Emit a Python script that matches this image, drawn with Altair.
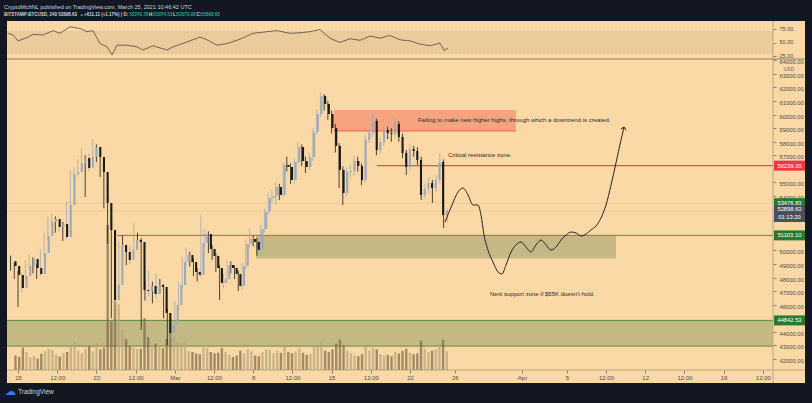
import altair as alt
import numpy as np
import pandas as pd

# ---------------- data ----------------
CANDLE_START = "2021-02-14 08:00"
CANDLE_STEP = "8h"
FIRST_OPEN = 49200
CLOSE = [48850, 48190, 47230, 48110, 48850, 49360, 48700, 48260, 49810, 51060,
         52090, 52310, 51720, 51940, 50980, 53340, 55620, 55770, 56430, 56800,
         56070, 56880, 57610, 56880, 55770, 53490, 51500, 46340, 47450, 50400,
         49880, 49290, 50030, 50760, 50620, 47080, 47010, 47380, 46790, 47450,
         47300, 45390, 43910, 44500, 45980, 47450, 49140, 49660, 49140, 48410,
         48200, 50540, 51210, 50100, 49590, 48700, 47600, 47890, 48920, 48700,
         48260, 47380, 48850, 50470, 50840, 50620, 50030, 51570, 52830, 53860,
         54000, 54670, 54080, 56290, 56140, 55180, 56510, 57610, 56580, 56140,
         56880, 58720, 60040, 61370, 60780, 60040, 59010, 57690, 55920, 54220,
         55770, 55840, 56580, 56210, 55180, 58130, 58640, 59530, 57390, 57980,
         58860, 58640, 58570, 59310, 58350, 57170, 56140, 57460, 57320, 56650,
         54080, 54520, 54960, 54590, 55180, 56510, 52600, 52898.63]
HIGH = [49600, 49100, 48500, 48400, 49300, 49700, 49500, 49000, 50100, 51300,
        52500, 52700, 52500, 52200, 52100, 53600, 55900, 56100, 56700, 57540,
        57000, 57100, 58200, 57800, 57000, 56000, 54000, 51800, 48200, 50700,
        51100, 50200, 50400, 52010, 51300, 50900, 47800, 48500, 47700, 48300,
        47900, 47500, 45700, 45000, 46300, 47700, 49500, 50200, 49900, 49400,
        48700, 52600, 51600, 51400, 50400, 49800, 48900, 48300, 49300, 49200,
        48900, 48500, 49100, 50800, 51650, 51100, 50900, 51900, 53100, 54300,
        54500, 55000, 54900, 56500, 56900, 56400, 56800, 58000, 57800, 56900,
        57200, 59000, 60400, 61660, 61500, 61000, 60300, 59300, 57900, 56200,
        56100, 56300, 57000, 56900, 56400, 58500, 59000, 60110, 59700, 58300,
        59200, 59100, 59000, 59800, 59500, 58600, 57400, 57800, 57700, 57600,
        56900, 54900, 55400, 55200, 55500, 57170, 56700, 53074.53]
LOW = [48500, 47900, 45830, 46900, 47900, 48600, 48300, 47900, 48100, 49600,
       50800, 51800, 51300, 51400, 50700, 50800, 53100, 55200, 55500, 56100,
       53930, 55800, 56600, 56500, 55400, 53100, 50500, 45000, 45900, 47200,
       49400, 48900, 49000, 49800, 50200, 44140, 46300, 46600, 46100, 46500,
       46800, 45000, 43030, 43500, 44200, 45700, 47200, 48900, 48800, 48100,
       47700, 48000, 50200, 49800, 49300, 48400, 46340, 47200, 47600, 48300,
       47900, 47000, 47100, 48600, 50200, 50300, 49600, 49800, 51300, 52600,
       53500, 53340, 53700, 53900, 55800, 54900, 54900, 56300, 56200, 55700,
       55900, 56600, 58500, 59800, 60300, 59600, 58600, 57200, 54590, 53340,
       54000, 55300, 55500, 55800, 54800, 55000, 57900, 58300, 57000, 57100,
       57700, 58200, 58000, 58300, 58000, 56800, 55550, 55900, 56900, 56300,
       53700, 53800, 54200, 53490, 54300, 54900, 51650, 52070.08]
VOLUME = [420, 380, 650, 520, 360, 410, 330, 470, 540, 610,
          580, 450, 390, 480, 520, 700, 820, 560, 480, 620,
          690, 540, 780, 600, 650, 4200, 1400, 2000, 1900, 1200,
          900, 700, 650, 600, 620, 1500, 950, 700, 760, 680,
          640, 900, 1100, 980, 800, 760, 820, 560, 520, 480,
          460, 720, 640, 520, 480, 500, 640, 520, 450, 380,
          420, 560, 480, 600, 540, 420, 400, 520, 600, 580,
          480, 560, 500, 700, 520, 480, 540, 620, 500, 440,
          460, 680, 720, 820, 560, 520, 600, 760, 880, 720,
          560, 480, 420, 400, 460, 700, 560, 640, 600, 460,
          420, 440, 400, 520, 480, 560, 620, 500, 460, 480,
          860, 620, 520, 560, 600, 760, 880, 540]

# RSI (days since 15 Feb 2021)
RSI_DAY = [-0.9, -0.45, 0.0, 0.8, 1.34, 2.23, 3.13, 3.75, 4.64, 5.54,
           6.16, 6.7, 7.32, 7.95, 8.39, 8.84, 9.73, 10.63, 11.16, 12.05,
           13.3, 13.84, 15.09, 16.25, 16.88, 17.77, 18.66, 19.82, 20.98, 22.23,
           23.13, 24.29, 25.18, 26.07, 26.96, 27.86, 28.75, 29.64, 30.54, 31.43,
           32.32, 33.21, 34.11, 35.0, 35.89, 36.79, 37.68, 38.04, 38.4]
RSI_VAL = [67, 64, 53, 59, 65, 64, 72, 67, 79, 76,
           70, 72, 48, 42, 27, 45, 45, 42, 36, 44,
           36, 42, 51, 60, 55, 45, 48, 56, 67, 70,
           72, 67, 68, 70, 74, 58, 50, 57, 54, 62,
           58, 63, 55, 53, 47, 44, 49, 35, 40]

# hand-drawn projection path
PROJ_DAY = [38.13, 38.75, 39.29, 39.73, 40.18, 40.63, 41.07, 41.34, 41.61, 41.96,
            42.41, 42.86, 43.21, 43.57, 44.02, 44.46, 44.91, 45.36, 45.80, 46.25,
            46.70, 47.14, 47.59, 48.04, 48.48, 48.93, 49.38, 49.82, 50.27, 50.71,
            51.16, 51.61, 52.05, 52.50, 52.95, 53.39, 53.84, 54.11]
PROJ_PRICE = [52090, 53340, 54300, 54590, 54080, 53340, 53340, 52600, 51130, 50030,
              49140, 48410, 48260, 48920, 49880, 50400, 50620, 50250, 49880, 50400,
              50760, 50400, 50030, 50250, 50760, 51130, 51350, 51280, 51060, 51200,
              51500, 51790, 52380, 53340, 54810, 56430, 58130, 59080]

# zones
ZONE_X0 = [-1.0, 21.25, 28.21]
ZONE_X1 = [67.4, 53.39, 44.46]
ZONE_LO = [42950, 49400, 58790]
ZONE_HI = [44842.53, 51103.10, 60340]
ZONE_FILL = ["#c4b985", "#c4b985", "#f5a47f"]

# horizontal levels
LEVEL_X0 = [32.05, 8.84, -1.0, -1.0, 28.21, -1.0, -1.0]
LEVEL_X1 = [67.4, 67.4, 67.4, 67.4, 44.46, 67.4, 67.4]
LEVEL_PRICE = [56239.00, 51103.10, 44842.53, 42950, 58790, 53476.83, 52898.63]
LEVEL_COLOR = ["#f04a4a", "#5e8f3a", "#5e8f3a", "#5e8f3a", "#f0604f", "#e9c48f", "#e9c48f"]
LEVEL_WIDTH = [1.2, 1.0, 1.0, 1.0, 1.0, 0.7, 0.7]

PRICE_TICKS = [42000, 43000, 44000, 46000, 47000, 48000, 49000, 50000, 54000,
               55000, 57000, 58000, 59000, 60000, 61000, 62000, 63000, 64000]
RSI_TICKS = [25, 50, 75]
TICK_DAYS = [0, 3.5, 7, 10.5, 14, 17.5, 21, 24.5, 28, 31.5, 35, 39, 45, 49, 52.5, 56, 59.5, 63, 66.5]
TICK_LABELS = ["15", "12:00", "22", "12:00", "Mar", "12:00", "8", "12:00", "15", "12:00",
               "22", "26", "Apr", "5", "12:00", "12", "12:00", "19", "12:00"]

BOX_PRICE = [56239.00, 53476.83, 51103.10, 44842.53]
BOX_TEXT = ["56239.00", "53476.83", "51103.10", "44842.53"]
BOX_COLOR = ["#f23645", "#1e7b34", "#2a7a2e", "#2a7a2e"]
LAST_PRICE = 52898.63
LAST_TEXT = "52898.63"
COUNTDOWN = "01:13:20"

NOTE_TEXT = ["Failing to make new higher highs, through which a downtrend is created.",
             "Critical resistance zone.",
             "Next support zone if $55K doesn't hold."]
NOTE_DAY = [35.71, 38.39, 42.14]
NOTE_PRICE = [59600, 57020, 46790]

HEADER1 = "CryptoMichNL published on TradingView.com, March 25, 2021 10:46:42 UTC"
HEADER2_TEXT = ["BITSTAMP:BTCUSD, 240  52898.63", "\u25b2", "+611.11 (+1.17%) | O:", "52245.78",
                "H:", "53074.53", "L:", "52070.08", "C:", "52898.63"]
HEADER2_GREEN = [False, True, False, True, False, True, False, True, False, True]

# ---------------- styling ----------------
BG = "#fad9a6"
FRAME = "#131722"
UP = "#9ea9b9"
DOWN = "#1a1a1a"
LIGHT = "#d1d4dc"
GREEN = "#26a69a"
FONT = "Liberation Sans"
W, H = 812, 403

X_SC = alt.Scale(domain=[-1, 70], range=[6.8, 802.0], zero=False, nice=False)
P_SC = alt.Scale(domain=[42000, 64000], range=[359.0, 60.25], zero=False, nice=False)
R_SC = alt.Scale(domain=[20, 80], range=[58.7, 26.3], zero=False, nice=False)
V_SC = alt.Scale(domain=[0, 9000], range=[370.0, 59.0], zero=False, nice=False)

# ---------------- tables ----------------
times = pd.date_range(CANDLE_START, periods=len(CLOSE), freq=CANDLE_STEP)
days = ((times - pd.Timestamp("2021-02-15")) / pd.Timedelta(days=1)).to_numpy()
opens = [FIRST_OPEN] + CLOSE[:-1]
candles = pd.DataFrame({"day": days, "open": opens, "close": CLOSE,
                        "high": HIGH, "low": LOW, "vol": VOLUME})
candles["dir"] = np.where(candles["close"] >= candles["open"], "up", "down")

rsi = pd.DataFrame({"day": RSI_DAY, "rsi": RSI_VAL})
proj = pd.DataFrame({"day": PROJ_DAY, "price": PROJ_PRICE})
zones = pd.DataFrame({"x0": ZONE_X0, "x1": ZONE_X1, "lo": ZONE_LO, "hi": ZONE_HI, "fill": ZONE_FILL})
levels = pd.DataFrame({"x0": LEVEL_X0, "x1": LEVEL_X1, "p": LEVEL_PRICE,
                       "c": LEVEL_COLOR, "w": LEVEL_WIDTH})
boxes = pd.DataFrame({"p": BOX_PRICE, "t": BOX_TEXT, "c": BOX_COLOR})
notes = pd.DataFrame({"day": NOTE_DAY, "price": NOTE_PRICE, "t": NOTE_TEXT})
one = pd.DataFrame({"k": [0]})

# header segment x-positions (layout)
seg_x = [4, 79.5, 84, 129.5, 149, 153.5, 173, 177, 196.5, 201]
header2 = pd.DataFrame({"t": HEADER2_TEXT, "x": seg_x,
                        "c": [GREEN if g else LIGHT for g in HEADER2_GREEN]})

dir_color = alt.Color("dir:N", scale=alt.Scale(domain=["up", "down"], range=[UP, DOWN]), legend=None)

days_js = "[" + ",".join(str(d) for d in TICK_DAYS) + "]"
labels_js = "[" + ",".join("'" + s + "'" for s in TICK_LABELS) + "]"
x_axis = alt.Axis(orient="bottom", offset=-33, values=TICK_DAYS,
                  labelExpr=f"{labels_js}[indexof({days_js}, datum.value)]",
                  domain=False, grid=False, tickSize=3, tickColor="#8a7d68",
                  labelFontSize=6, labelColor="#4a4a4a", labelPadding=1,
                  labelFlush=False, labelOverlap=False, title=None, labelFont=FONT)
price_axis = alt.Axis(orient="right", offset=-39, values=PRICE_TICKS, format=".2f",
                      domain=False, grid=False, tickSize=3, tickColor="#8a7d68",
                      labelFontSize=5.8, labelColor="#4a4a4a", labelPadding=3,
                      labelOverlap=False, title=None, labelFont=FONT, labelOffset=1.5)
rsi_axis = alt.Axis(orient="right", offset=-39, values=RSI_TICKS, format=".2f",
                    domain=False, grid=False, tickSize=3, tickColor="#8a7d68",
                    labelFontSize=5.5, labelColor="#4a4a4a", labelPadding=3,
                    labelOverlap=False, title=None, labelFont=FONT, labelOffset=-1)


def xq(field, axis=None):
    return alt.X(field, type="quantitative", scale=X_SC, axis=axis)


def yp(field, axis=None):
    return alt.Y(field, type="quantitative", scale=P_SC, axis=axis)


# ---------------- layers ----------------
rsi_band = alt.Chart(pd.DataFrame({"lo": [30], "hi": [70]})).mark_rect(color="#ebcb9b").encode(
    x=alt.value(7), x2=alt.value(773),
    y=alt.Y("lo:Q", scale=R_SC, axis=None), y2="hi:Q")
rsi_dash = alt.Chart(pd.DataFrame({"v": [30, 70]})).mark_rule(
    color="#c9a97a", strokeDash=[2, 2], strokeWidth=0.6).encode(
    x=alt.value(7), x2=alt.value(773), y=alt.Y("v:Q", scale=R_SC, axis=None))
rsi_line = alt.Chart(rsi).mark_line(color="#4d4a45", strokeWidth=0.8).encode(
    x=xq("day"), y=alt.Y("rsi:Q", scale=R_SC, axis=rsi_axis))

zone_rects = alt.Chart(zones).mark_rect().encode(
    x=xq("x0"), x2="x1", y=yp("lo"), y2="hi", color=alt.Color("fill:N", scale=None))
level_rules = alt.Chart(levels).mark_rule().encode(
    x=xq("x0"), x2="x1", y=yp("p"),
    color=alt.Color("c:N", scale=None), strokeWidth=alt.StrokeWidth("w:Q", scale=None))

vol_bars = alt.Chart(candles).mark_bar(width=2.4, opacity=0.7).encode(
    x=xq("day"), y=alt.Y("vol:Q", scale=V_SC, axis=None),
    color=alt.Color("dir:N", scale=alt.Scale(domain=["up", "down"], range=["#b7a47f", "#7c6848"]),
                    legend=None))

wicks = alt.Chart(candles).mark_rule(strokeWidth=0.8).encode(
    x=xq("day", x_axis), y=yp("low", price_axis), y2="high", color=dir_color)
bodies = alt.Chart(candles).mark_bar(width=2.1).encode(
    x=xq("day"), y=yp("open"), y2="close", color=dir_color)

proj_line = alt.Chart(proj).mark_line(color="#111111", strokeWidth=0.9, interpolate="monotone").encode(
    x=xq("day"), y=yp("price"))
arrow = alt.Chart(proj.tail(1)).mark_point(
    shape="M -1 1 L 0 0 L 1 1", filled=False, color="#111111", strokeWidth=0.9,
    size=28, angle=13, opacity=1).encode(x=xq("day"), y=yp("price"))

note_text = alt.Chart(notes).mark_text(align="left", baseline="middle", fontSize=6,
                                       color="#2b2b2b", font=FONT).encode(
    x=xq("day"), y=yp("price"), text="t:N")

sep_v = alt.Chart(one).mark_rule(color="#a8987c", strokeWidth=0.8).encode(
    x=alt.value(773), y=alt.value(21), y2=alt.value(383))
sep_h = alt.Chart(one).mark_rule(color="#8c7c62", strokeWidth=1).encode(
    x=alt.value(7), x2=alt.value(805), y=alt.value(59))
axis_h = alt.Chart(one).mark_rule(color="#a8987c", strokeWidth=0.8).encode(
    x=alt.value(7), x2=alt.value(805), y=alt.value(370))
usd = alt.Chart(one).mark_text(text="USD", fontSize=5, color="#666666", font=FONT,
                               baseline="middle").encode(
    x=alt.value(789), y=alt.value(68.5))

box_rects = alt.Chart(boxes).mark_rect(height=10).encode(
    x=alt.value(774), x2=alt.value(805), y=yp("p"), color=alt.Color("c:N", scale=None))
box_text = alt.Chart(boxes).mark_text(fontSize=5.8, color="white", font=FONT,
                                      baseline="middle").encode(
    x=alt.value(789.5), y=yp("p"), text="t:N")
last_df = pd.DataFrame({"p": [LAST_PRICE], "t": [LAST_TEXT], "cd": [COUNTDOWN]})
last_rect = alt.Chart(last_df).mark_rect(height=17, yOffset=2.5, color="#4a4f5b").encode(
    x=alt.value(774), x2=alt.value(805), y=yp("p"))
last_text = alt.Chart(last_df).mark_text(fontSize=5.8, color="white", font=FONT,
                                         baseline="middle", dy=-2).encode(
    x=alt.value(789.5), y=yp("p"), text="t:N")
last_cd = alt.Chart(last_df).mark_text(fontSize=5.8, color="white", font=FONT,
                                       baseline="middle", dy=6).encode(
    x=alt.value(789.5), y=yp("p"), text="cd:N")

frame_top = alt.Chart(one).mark_rect(color=FRAME).encode(
    x=alt.value(0), x2=alt.value(W), y=alt.value(0), y2=alt.value(21))
frame_bot = alt.Chart(one).mark_rect(color=FRAME).encode(
    x=alt.value(0), x2=alt.value(W), y=alt.value(383), y2=alt.value(H))
frame_l = alt.Chart(one).mark_rect(color=FRAME).encode(
    x=alt.value(0), x2=alt.value(7), y=alt.value(0), y2=alt.value(H))
frame_r = alt.Chart(one).mark_rect(color=FRAME).encode(
    x=alt.value(805), x2=alt.value(W), y=alt.value(0), y2=alt.value(H))

head1 = alt.Chart(one).mark_text(text=HEADER1, align="left", baseline="middle",
                                 fontSize=5.5, color=LIGHT, font=FONT).encode(
    x=alt.value(4), y=alt.value(6.5))
head2 = alt.Chart(header2).mark_text(align="left", baseline="middle", fontSize=4.5,
                                     font=FONT, fontWeight="bold").encode(
    x=alt.X("x:Q", scale=None), y=alt.value(15), text="t:N",
    color=alt.Color("c:N", scale=None))
logo = alt.Chart(one).mark_text(text="\u2601", align="left", baseline="middle",
                                fontSize=11, color="#2e7cf6").encode(
    x=alt.value(5), y=alt.value(392))
brand = alt.Chart(one).mark_text(text="TradingView", align="left", baseline="middle",
                                 fontSize=6.5, color=LIGHT, font=FONT).encode(
    x=alt.value(18), y=alt.value(392))

chart = alt.layer(
    rsi_band, rsi_dash, rsi_line,
    zone_rects, level_rules, vol_bars, wicks, bodies, proj_line, arrow, note_text,
    sep_v, sep_h, axis_h, usd,
    box_rects, box_text, last_rect, last_text, last_cd,
    frame_top, frame_bot, frame_l, frame_r, head1, head2, logo, brand,
).resolve_scale(
    x="independent", y="independent", color="independent", strokeWidth="independent"
).properties(
    width=W, height=H, padding=0, background=BG,
    autosize=alt.AutoSizeParams(type="none"),
).configure_view(stroke=None, fill=BG).configure(font=FONT)

chart.save("out.html", embed_options={"renderer": "svg", "actions": False})
